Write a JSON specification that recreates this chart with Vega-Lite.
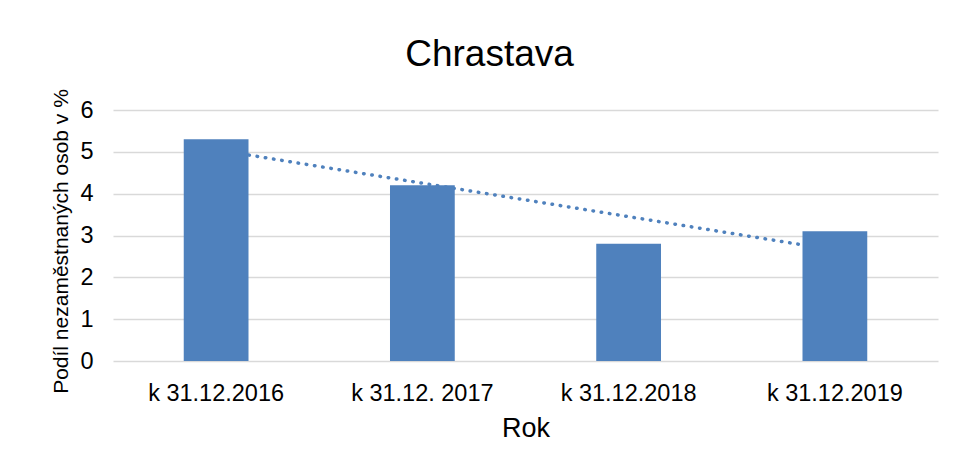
{
  "$schema": "https://vega.github.io/schema/vega-lite/v6.json",
  "width": 825,
  "height": 251,
  "autosize": {"type": "none"},
  "padding": {"left": 113, "top": 110, "right": 20, "bottom": 105},
  "background": "white",
  "title": {
    "text": "Chrastava",
    "font": "Liberation Sans",
    "fontSize": 37,
    "fontWeight": "normal",
    "color": "#000000",
    "anchor": "middle",
    "frame": "group",
    "baseline": "alphabetic",
    "dx": -36,
    "dy": 34,
    "offset": 20
  },
  "config": {
    "view": {"stroke": null},
    "font": "Liberation Sans"
  },
  "data": {
    "values": [
      {"rok": "k 31.12.2016", "podil": 5.3, "trend": 5.05},
      {"rok": "k 31.12. 2017", "podil": 4.2, "trend": 4.25},
      {"rok": "k 31.12.2018", "podil": 2.8, "trend": 3.45},
      {"rok": "k 31.12.2019", "podil": 3.1, "trend": 2.65}
    ]
  },
  "encoding": {
    "x": {
      "field": "rok",
      "type": "nominal",
      "sort": null,
      "scale": {"paddingInner": 0.686, "paddingOuter": 0.343},
      "axis": {
        "title": "Rok",
        "titleFont": "Liberation Sans",
        "titleFontSize": 27,
        "titleFontWeight": "normal",
        "titleColor": "#000000",
        "titleBaseline": "alphabetic",
        "titleY": 75.7,
        "labelAngle": 0,
        "labelFont": "Liberation Sans",
        "labelFontSize": 23.5,
        "labelColor": "#000000",
        "labelPadding": 20,
        "ticks": false,
        "domain": false,
        "grid": false
      }
    }
  },
  "layer": [
    {
      "mark": {
        "type": "line",
        "color": "#4F81BD",
        "strokeWidth": 3.5,
        "strokeCap": "round",
        "strokeDash": [0.5, 7.8]
      },
      "encoding": {
        "y": {"field": "trend", "type": "quantitative"}
      }
    },
    {
      "mark": {"type": "bar", "color": "#4F81BD"},
      "encoding": {
        "y": {
          "field": "podil",
          "type": "quantitative",
          "scale": {"domain": [0, 6], "nice": false},
          "axis": {
            "title": "Podíl nezaměstnaných osob v %",
            "titleFont": "Liberation Sans",
            "titleFontSize": 21,
            "titleFontWeight": "normal",
            "titleColor": "#000000",
            "titleBaseline": "alphabetic",
            "titleAngle": -90,
            "titleAlign": "center",
            "titleX": -46,
            "titleY": 131,
            "values": [0, 1, 2, 3, 4, 5, 6],
            "labelFont": "Liberation Sans",
            "labelFontSize": 23.5,
            "labelColor": "#000000",
            "labelPadding": 20,
            "ticks": false,
            "domain": false,
            "grid": true,
            "gridColor": "#d9d9d9",
            "gridWidth": 1.5
          }
        }
      }
    }
  ]
}
